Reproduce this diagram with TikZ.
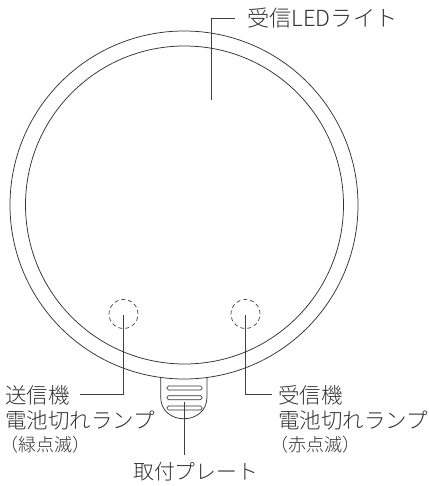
\documentclass[tikz,border=0pt]{standalone}
\usepackage{fontspec}
\setmainfont{Noto Sans CJK JP Light}
\begin{document}
\begin{tikzpicture}
[x=1pt,y=-1pt,
 ringLine/.style={draw=black!80,line width=0.75pt},
 leadLine/.style={draw=black!75,line width=0.8pt},
 partLabel/.style={inner sep=0pt,anchor=west,font=\fontsize{21.5}{23}\selectfont,text=black!80},
 subLabel/.style={inner sep=0pt,anchor=west,font=\fontsize{18}{20}\selectfont,text=black!80}]
\useasboundingbox (0,0) rectangle (428,486);
%% ring
\node (ringOuter) at (184,205) [circle,ringLine,minimum size=348pt,inner sep=0pt] {};
\node (ringInner) at (184.5,205) [circle,ringLine,minimum size=318pt,inner sep=0pt] {};
%% lamps
\foreach \nodename/\x in {lampSend/123.5, lampRecv/245.5}
{
  \node (\nodename) at (\x,314) [circle,draw=black!75,dash pattern=on 4pt off 3pt,line width=0.7pt,minimum size=29pt,inner sep=0pt] {};
}
%% plate
\draw[ringLine] (160.7,378) -- (160.7,397) .. controls (160.7,426) and (207,426) .. (207,397) -- (207,378);
\foreach \y in {388,397.7,408}
{
  \draw[black!80,line width=0.7pt,rounded corners=1.5pt] (167,\y-2) rectangle (202,\y+2);
}
%% labels
\node (ledLabel) at (247,18) [partLabel,font=\fontsize{22.2}{24}\selectfont] {受信LEDライト};
\node (sendLabel) at (5,395) [partLabel] {送信機};
\node (sendLamp) at (5,420) [partLabel] {電池切れランプ};
\node (sendBlink) at (0.5,445) [subLabel] {（緑点滅）};
\node (recvLabel) at (278,395) [partLabel] {受信機};
\node (recvLamp) at (278,420) [partLabel] {電池切れランプ};
\node (recvBlink) at (270,445) [subLabel] {（赤点滅）};
\node (plateLabel) at (133,472) [partLabel,font=\fontsize{20.8}{23}\selectfont] {取付プレート};
%% leaders
\coordinate (ledEnd) at (211,100);
\coordinate (sendEnd) at (123.7,315);
\coordinate (recvEnd) at (245.3,315);
\coordinate (plateEnd) at (184.3,402);
\coordinate (plateStart) at (184.3,455);
\draw[leadLine] (ledLabel.west) ++(-12,0) -| (ledEnd);
\draw[leadLine] (sendLabel.east) ++(10.5,-1) -| (sendEnd);
\draw[leadLine] (recvLabel.west) ++(-6,-1) -| (recvEnd);
\draw[leadLine] (plateStart) -- (plateEnd);
\end{tikzpicture}
\end{document}
